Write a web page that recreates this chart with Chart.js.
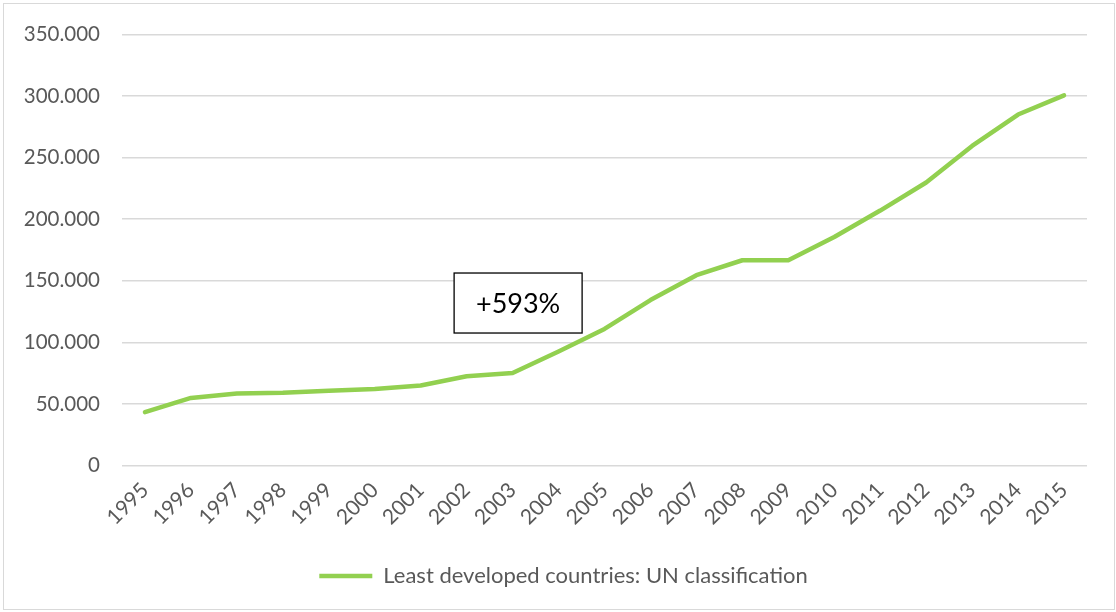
<!DOCTYPE html>
<html>
<head>
<meta charset="utf-8">
<script src="https://cdn.jsdelivr.net/npm/chart.js@4"></script>
<style>
  body { margin: 0; background: #fff; }
  #wrap { position: relative; width: 1116px; height: 612px; }
</style>
</head>
<body>
<div id="wrap"><canvas id="lineChart" width="1116" height="612"></canvas></div>
<script>
// data
var years = ['1995','1996','1997','1998','1999','2000','2001','2002','2003','2004','2005',
             '2006','2007','2008','2009','2010','2011','2012','2013','2014','2015'];
var ldcValues = [43500, 55000, 58600, 59300, 60900, 62300, 65100, 72600, 75200, 92700, 111000,
                 134400, 154600, 166700, 166700, 185500, 207000, 229800, 259400, 284900, 300500];
var seriesLabel = 'Least developed countries: UN classification';
var boxText = '+593%';

var green = '#92D050';
var grey = '#595959';

// light frame round the whole chart
var framePlugin = {
  id: 'frame',
  beforeDraw: function (chart) {
    var c = chart.ctx;
    c.save();
    c.strokeStyle = '#d9d9d9';
    c.lineWidth = 1;
    c.strokeRect(3.5, 3.5, chart.width - 5, chart.height - 6);
    c.restore();
  }
};

// legend sits centred on the whole canvas in the original, not on the plot
var legendShift = {
  id: 'legendShift',
  afterLayout: function (chart) {
    chart.legend.left += 20;
    chart.legend.right += 20;
  }
};

// the "+593%" text box
var boxPlugin = {
  id: 'growthBox',
  afterDatasetsDraw: function (chart) {
    var c = chart.ctx;
    var cx = chart.scales.x.getPixelForValue(8.12);
    var cy = chart.scales.y.getPixelForValue(132000);
    var w = 128, h = 60;
    c.save();
    c.fillStyle = '#fff';
    c.fillRect(cx - w / 2, cy - h / 2, w, h);
    c.strokeStyle = '#000';
    c.lineWidth = 1.3;
    c.strokeRect(cx - w / 2, cy - h / 2, w, h);
    c.fillStyle = '#000';
    c.font = '27px Lato';
    c.textAlign = 'center';
    c.textBaseline = 'middle';
    c.fillText(boxText, cx, cy + 1);
    c.restore();
  }
};

var ctx = document.getElementById('lineChart').getContext('2d');
var lineChart = new Chart(ctx, {
  type: 'line',
  data: {
    labels: years,
    datasets: [{
      label: seriesLabel,
      data: ldcValues,
      borderColor: green,
      backgroundColor: green,
      borderWidth: 4.5,
      borderCapStyle: 'round',
      borderJoinStyle: 'round',
      pointRadius: 0,
      tension: 0,
      fill: false
    }]
  },
  options: {
    responsive: false,
    animation: false,
    layout: {
      padding: { left: 0, right: 29, top: 20, bottom: 15 }
    },
    scales: {
      x: {
        offset: true,
        grid: { display: false, drawTicks: false },
        border: { display: false },
        ticks: {
          color: grey,
          font: { family: 'Lato', size: 21 },
          minRotation: 45,
          maxRotation: 45,
          padding: 12,
          autoSkip: false
        }
      },
      y: {
        min: 0,
        max: 350000,
        afterFit: function (scale) { scale.width = 122; },
        grid: { color: '#d9d9d9', lineWidth: 1.5, drawTicks: false },
        border: { display: false },
        ticks: {
          stepSize: 50000,
          color: grey,
          padding: 22,
          font: { family: 'Lato', size: 20.5 },
          callback: function (v) {
            return String(v).replace(/\B(?=(\d{3})+(?!\d))/g, '.');
          }
        }
      }
    },
    plugins: {
      legend: {
        position: 'bottom',
        labels: {
          usePointStyle: true,
          pointStyle: 'line',
          pointStyleWidth: 53,
          boxHeight: 4,
          color: grey,
          padding: 23,
          font: { family: 'Lato', size: 22 }
        }
      },
      tooltip: { enabled: false }
    }
  },
  plugins: [framePlugin, legendShift, boxPlugin]
});
</script>
</body>
</html>
